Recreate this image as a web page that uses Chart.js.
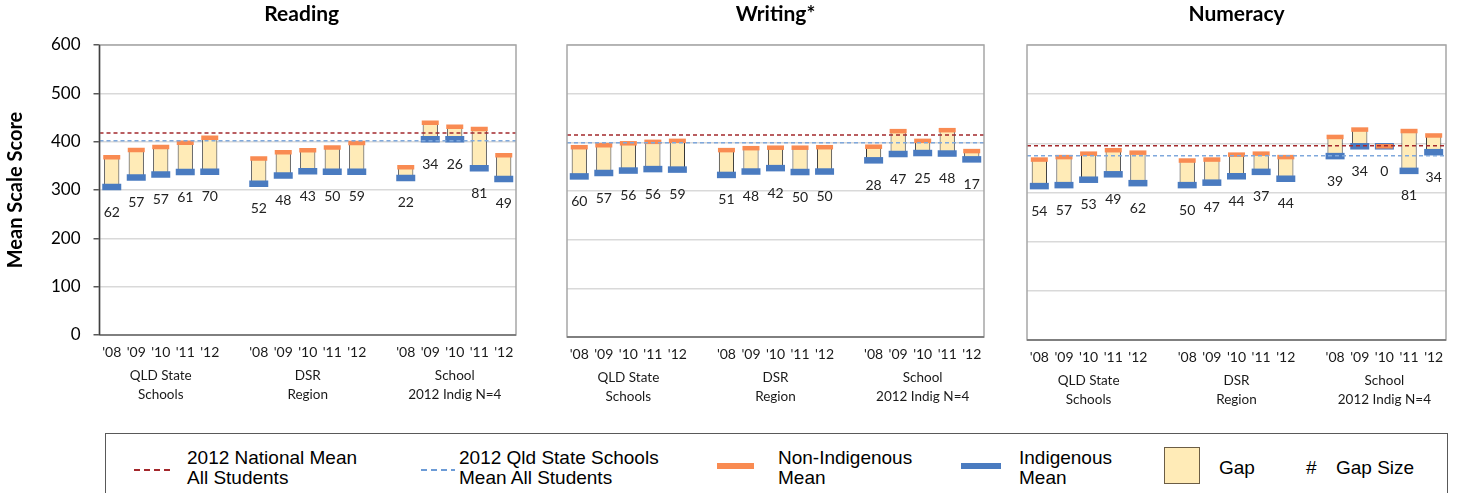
<!DOCTYPE html>
<html>
<head>
<meta charset="utf-8">
<script src="https://cdn.jsdelivr.net/npm/chart.js@4.4.0/dist/chart.umd.min.js"></script>
<style>
  body { margin: 0; background: #fff; width: 1462px; height: 493px; overflow: hidden; position: relative; }
  canvas.panel { position: absolute; top: 0; }
  #legend { position: absolute; left: 105px; top: 433px; width: 1343px; height: 80px; border: 1.5px solid #595959; box-sizing: border-box; font-family: "Liberation Sans", Arial, sans-serif; }
  #legend div { position: absolute; }
  .txt { font-size: 19px; line-height: 19.5px; color: #000; white-space: nowrap; }
  .dash { height: 2px; }
  .cap { height: 6px; }
</style>
</head>
<body>
<canvas id="c0" class="panel"></canvas>
<canvas id="c1" class="panel"></canvas>
<canvas id="c2" class="panel"></canvas>

<div id="legend">
  <div class="dash" style="left:28px; top:35px; width:40px; background:repeating-linear-gradient(to right,#A3282C 0 6px,transparent 6px 10px);"></div>
  <div class="txt" style="left:81px; top:14px;">2012 National Mean<br>All Students</div>
  <div class="dash" style="left:315px; top:35px; width:34px; background:repeating-linear-gradient(to right,#6C9BD6 0 6px,transparent 6px 10px);"></div>
  <div class="txt" style="left:353px; top:14px;">2012 Qld State Schools<br>Mean All Students</div>
  <div class="cap" style="left:611px; top:29px; width:37px; background:#F98B52;"></div>
  <div class="txt" style="left:672px; top:14px;">Non-Indigenous<br>Mean</div>
  <div class="cap" style="left:855px; top:29px; width:40px; background:#4A7BC0;"></div>
  <div class="txt" style="left:913px; top:14px;">Indigenous<br>Mean</div>
  <div style="left:1058px; top:13px; width:36px; height:37px; background:#FFEBB7; border:1px solid #6b5d45; box-sizing:border-box;"></div>
  <div class="txt" style="left:1113px; top:24px;">Gap</div>
  <div class="txt" style="left:1200px; top:24px;">#</div>
  <div class="txt" style="left:1230px; top:24px;">Gap Size</div>
</div>

<script>
// categories along each panel: three groups of five years
const years = ["'08", "'09", "'10", "'11", "'12"];
const groups = [["QLD State", "Schools"], ["DSR", "Region"], ["School", "2012 Indig N=4"]];
const subjects = ["Reading", "Writing*", "Numeracy"];

// mean scale scores, in group order QLD(5), DSR(5), School(5)
const readingNonIndig = [368, 383, 389, 398, 408, 365, 378, 382, 388, 397, 347, 439, 431, 426, 372];
const readingIndig = [306, 326, 332, 337, 338, 313, 330, 339, 338, 338, 325, 405, 405, 345, 323];
const readingGap = [62, 57, 57, 61, 70, 52, 48, 43, 50, 59, 22, 34, 26, 81, 49];

const writingNonIndig = [390, 394, 398, 401, 403, 384, 388, 389, 389, 390, 391, 423, 403, 425, 382];
const writingIndig = [330, 337, 342, 345, 344, 333, 340, 347, 339, 340, 363, 376, 378, 377, 365];
const writingGap = [60, 57, 56, 56, 59, 51, 48, 42, 50, 50, 28, 47, 25, 48, 17];

const numeracyNonIndig = [367, 372, 379, 386, 381, 365, 367, 377, 379, 372, 413, 428, 394, 425, 416];
const numeracyIndig = [313, 315, 326, 337, 319, 315, 320, 333, 342, 328, 374, 394, 394, 344, 382];
const numeracyGap = [54, 57, 53, 49, 62, 50, 47, 44, 37, 44, 39, 34, 0, 81, 34];

// 2012 reference means per subject
const nationalMean = [418, 415, 395];
const qldMean = [402, 399, 375];

const yMin = 0, yMax = 600, yStep = 100;

const ORANGE = "#F98B52";
const BLUE = "#4A7BC0";
const GAPFILL = "#FFEBB7";

// empty slot between groups
const categories = [...years, "", ...years, "", ...years];
const spread = (arr) => [...arr.slice(0, 5), null, ...arr.slice(5, 10), null, ...arr.slice(10)];

const series = [
  { non: readingNonIndig, ind: readingIndig, gap: readingGap },
  { non: writingNonIndig, ind: writingIndig, gap: writingGap },
  { non: numeracyNonIndig, ind: numeracyIndig, gap: numeracyGap },
];

const panels = [
  { id: "c0", left: 0, width: 540, padL: 0, padR: 24, yWidth: 99.5, bottom: 335, showY: true, titleShift: -6 },
  { id: "c1", left: 540, width: 460, padL: 27, padR: 15, yWidth: 0, bottom: 337, showY: false, titleShift: 0 },
  { id: "c2", left: 1000, width: 462, padL: 27, padR: 14, yWidth: 0, bottom: 340, showY: false, titleShift: 0 },
];
const H = 425;

function makePanel(p, k) {
  const s = series[k];
  const non = spread(s.non);
  const ind = spread(s.ind);
  const gapLbl = spread(s.gap);

  const canvas = document.getElementById(p.id);
  canvas.width = p.width;
  canvas.height = H;
  canvas.style.left = p.left + "px";
  canvas.style.width = p.width + "px";
  canvas.style.height = H + "px";

  const decor = {
    id: "decor" + k,
    afterDatasetsDraw(chart) {
      const { ctx, chartArea: a, scales: { x, y } } = chart;
      ctx.save();
      // reference means
      ctx.lineWidth = 1.5;
      ctx.setLineDash([4, 3]);
      [[qldMean[k], "#7FA8DC"], [nationalMean[k], "#A3282C"]].forEach(([v, c]) => {
        const py = y.getPixelForValue(v);
        ctx.strokeStyle = c;
        ctx.beginPath();
        ctx.moveTo(a.left, py);
        ctx.lineTo(a.right, py);
        ctx.stroke();
      });
      ctx.setLineDash([]);
      // plot frame
      ctx.strokeStyle = "#a6a6a6";
      ctx.lineWidth = 1.5;
      ctx.strokeRect(a.left, a.top, a.right - a.left, a.bottom - a.top);
      ctx.strokeStyle = "#6e6e6e";
      ctx.beginPath();
      ctx.moveTo(a.left, a.bottom);
      ctx.lineTo(a.right, a.bottom);
      ctx.stroke();
      if (p.showY) {
        ctx.strokeStyle = "#404040";
        ctx.beginPath();
        ctx.moveTo(a.left, a.top);
        ctx.lineTo(a.left, a.bottom);
        ctx.stroke();
      }
      // gap size labels
      ctx.fillStyle = "#222";
      ctx.font = "14px Lato";
      ctx.textAlign = "center";
      ctx.textBaseline = "middle";
      ind.forEach((v, i) => {
        if (v == null) return;
        ctx.fillText(String(gapLbl[i]), x.getPixelForValue(i), y.getPixelForValue(v) + 25);
      });
      // group labels under the year ticks
      ctx.font = "13.5px Lato";
      ctx.fillStyle = "#1a1a1a";
      groups.forEach((g, gi) => {
        const gx = x.getPixelForValue(gi * 6 + 2);
        ctx.fillText(g[0], gx, a.bottom + 41);
        ctx.fillText(g[1], gx, a.bottom + 60);
      });
      // panel title
      ctx.font = "bold 21px Lato";
      ctx.fillStyle = "#000";
      ctx.textBaseline = "alphabetic";
      ctx.fillText(subjects[k], (a.left + a.right) / 2 + p.titleShift, 21);
      ctx.restore();
    },
  };

  return new Chart(canvas, {
    data: {
      labels: categories,
      datasets: [
        {
          type: "line",
          label: "Non-Indigenous Mean",
          data: non,
          showLine: false,
          pointStyle: "line",
          pointRadius: 8.5,
          pointHoverRadius: 8.5,
          pointBorderWidth: 4.5,
          pointHoverBorderWidth: 4.5,
          pointBorderColor: ORANGE,
          borderColor: ORANGE,
        },
        {
          type: "line",
          label: "Indigenous Mean",
          data: ind,
          showLine: false,
          pointStyle: "line",
          pointRadius: 9.5,
          pointHoverRadius: 9.5,
          pointBorderWidth: 6.5,
          pointHoverBorderWidth: 6.5,
          pointBorderColor: BLUE,
          borderColor: BLUE,
        },
        {
          type: "bar",
          label: "Gap",
          data: ind.map((v, i) => (v == null ? null : [v, non[i]])),
          backgroundColor: GAPFILL,
          borderColor: "#333",
          borderWidth: 1,
          borderSkipped: false,
          barPercentage: 0.62,
          categoryPercentage: 1,
        },
      ],
    },
    options: {
      responsive: false,
      animation: false,
      layout: { padding: { left: p.padL, right: p.padR, top: 45, bottom: 0 } },
      plugins: { legend: { display: false }, tooltip: { enabled: false } },
      scales: {
        x: {
          type: "category",
          offset: true,
          grid: { display: false, drawTicks: false },
          border: { display: false },
          ticks: { autoSkip: false, maxRotation: 0, padding: 9, color: "#1a1a1a", font: { family: "Lato", size: 14 } },
          afterFit: (sc) => { sc.height = H - p.bottom; },
        },
        y: {
          min: yMin,
          max: yMax,
          ticks: { stepSize: yStep, display: p.showY, padding: 13, color: "#000", font: { family: "Lato", size: 17 } },
          grid: { color: "#d9d9d9", lineWidth: 1.5, drawTicks: p.showY, tickLength: 6, tickColor: "#595959", tickWidth: 1.5 },
          border: { display: false },
          title: {
            display: p.showY,
            text: "Mean Scale Score",
            color: "#000",
            font: { family: "Lato", size: 20, weight: "bold" },
            padding: { top: 4, bottom: 0 },
          },
          afterFit: (sc) => { sc.width = p.yWidth; },
        },
      },
    },
    plugins: [decor],
  });
}

panels.forEach(makePanel);
</script>
</body>
</html>
